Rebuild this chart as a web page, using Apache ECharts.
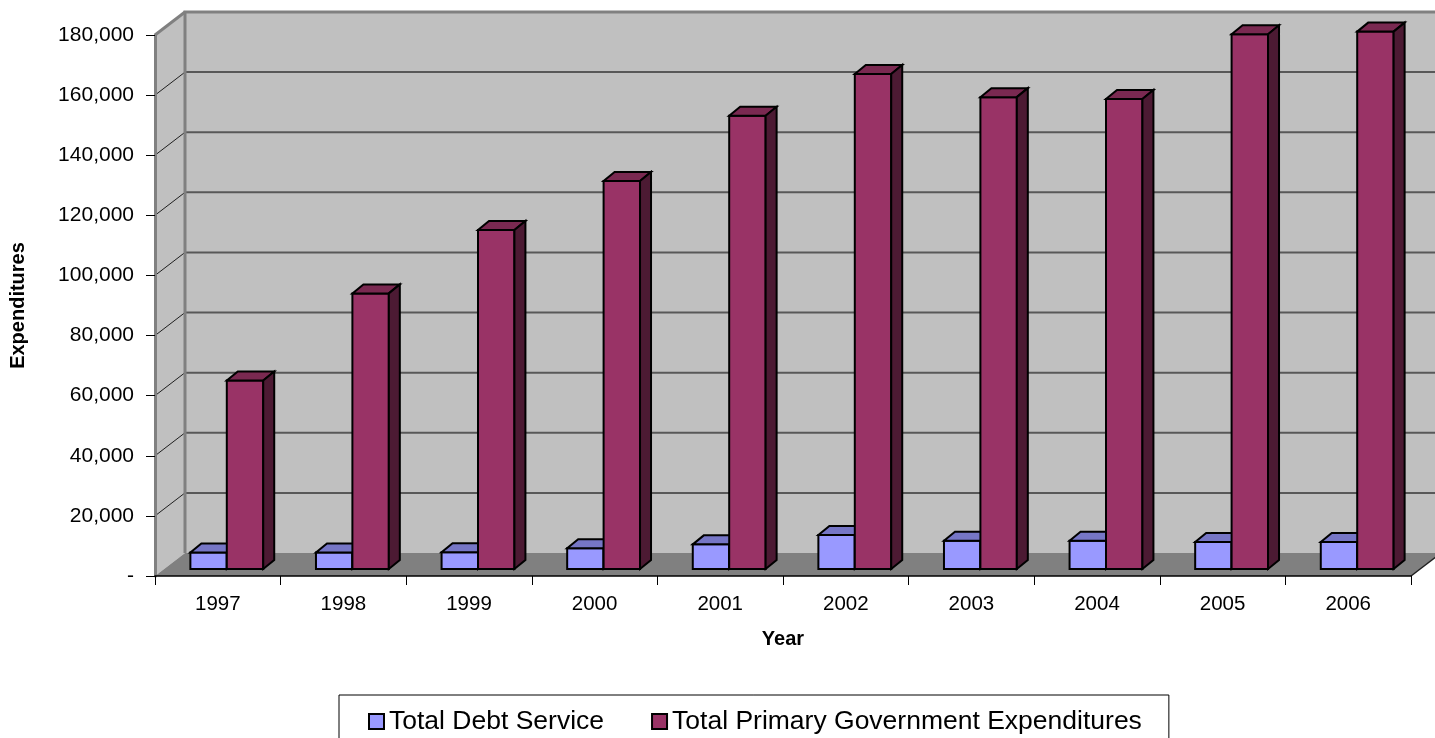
<!DOCTYPE html>
<html>
<head>
<meta charset="utf-8">
<script src="https://cdn.jsdelivr.net/npm/echarts@6/dist/echarts.min.js"></script>
<style>
  html, body { margin: 0; padding: 0; background: #ffffff; }
  #chart { width: 1435px; height: 738px; }
</style>
</head>
<body>
<div id="chart"></div>
<script>
// ---- data ----
const years = ['1997', '1998', '1999', '2000', '2001', '2002', '2003', '2004', '2005', '2006'];
const debtService = [5500, 5500, 5600, 6900, 8200, 11300, 9400, 9400, 9000, 9000];
const primaryExpenditures = [62700, 91700, 112800, 129100, 150800, 164700, 157000, 156400, 177900, 178800];
const yTicks = [0, 20000, 40000, 60000, 80000, 100000, 120000, 140000, 160000, 180000];
const seriesNames = ['Total Debt Service', 'Total Primary Government Expenditures'];

// ---- 3-D box geometry (pixels) ----
const WALL_DX = 30, WALL_DY = -23;   // depth of the chart box
const BAR_FX = 9, BAR_FY = -7;       // where the bars stand inside the box
const BAR_DX = 11, BAR_DY = -9;      // depth of a single bar
const BAR_FRACTION = 0.29;           // bar width as a share of a category band

const FONT = "'Liberation Sans', Arial, sans-serif";

const palette = {
  debt: { front: '#9999ff', top: '#7676c6', side: '#4c4c80' },
  primary: { front: '#993366', top: '#7a2951', side: '#4c1a33' }
};

// back wall, left wall, floor and the gridlines painted on the walls
function renderFrame(params, api) {
  const cs = params.coordSys;
  const x0 = cs.x, x1 = cs.x + cs.width;
  const yb = api.coord([0, 0])[1];
  const yt = api.coord([0, yTicks[yTicks.length - 1]])[1];
  const children = [];

  children.push({
    type: 'polygon',
    shape: { points: [[x0 + WALL_DX, yt + WALL_DY], [x1 + WALL_DX + 40, yt + WALL_DY], [x1 + WALL_DX + 40, yb + WALL_DY], [x0 + WALL_DX, yb + WALL_DY]] },
    style: { fill: '#c0c0c0' }
  });
  children.push({
    type: 'polygon',
    shape: { points: [[x0, yt], [x0 + WALL_DX, yt + WALL_DY], [x0 + WALL_DX, yb + WALL_DY], [x0, yb]] },
    style: { fill: '#c0c0c0' }
  });
  children.push({
    type: 'polygon',
    shape: { points: [[x0, yb], [x0 + WALL_DX, yb + WALL_DY], [x1 + WALL_DX, yb + WALL_DY], [x1, yb]] },
    style: { fill: '#808080' }
  });

  yTicks.forEach(function (v) {
    if (v === 0) return;
    const y = api.coord([0, v])[1];
    if (v !== yTicks[yTicks.length - 1]) {
      children.push({
        type: 'line',
        shape: { x1: x0 + WALL_DX, y1: y + WALL_DY, x2: x1 + WALL_DX + 40, y2: y + WALL_DY },
        style: { stroke: '#585858', lineWidth: 2 }
      });
    }
    children.push({
      type: 'line',
      shape: { x1: x0, y1: y, x2: x0 + WALL_DX, y2: y + WALL_DY },
      style: { stroke: '#202020', lineWidth: 1 }
    });
  });

  // box edges
  children.push({
    type: 'polyline',
    shape: { points: [[x0 + WALL_DX, yb + WALL_DY], [x0 + WALL_DX, yt + WALL_DY], [x1 + WALL_DX + 40, yt + WALL_DY]] },
    style: { stroke: '#808080', lineWidth: 3, fill: null }
  });
  children.push({
    type: 'line',
    shape: { x1: x0, y1: yt, x2: x0 + WALL_DX, y2: yt + WALL_DY },
    style: { stroke: '#808080', lineWidth: 3 }
  });
  children.push({
    type: 'line',
    shape: { x1: x1, y1: yb, x2: x1 + WALL_DX, y2: yb + WALL_DY },
    style: { stroke: '#202020', lineWidth: 1.5 }
  });
  return { type: 'group', children: children };
}

// a 3-D column: front face, top face, right side face
function barRenderer(slot, colors) {
  return function (params, api) {
    const i = api.value(0), v = api.value(1);
    const base = api.coord([i, 0]);
    const top = api.coord([i, v]);
    const w = api.size([1, 0])[0] * BAR_FRACTION;
    const xL = base[0] + BAR_FX + (slot - 1) * w;
    const xR = xL + w;
    const yB = base[1] + BAR_FY;
    const yT = top[1] + BAR_FY;
    const edge = { stroke: '#000000', lineWidth: 2, lineJoin: 'miter' };
    return {
      type: 'group',
      children: [
        { type: 'polygon', shape: { points: [[xL, yT], [xR, yT], [xR, yB], [xL, yB]] },
          style: Object.assign({ fill: colors.front }, edge) },
        { type: 'polygon', shape: { points: [[xL, yT], [xR, yT], [xR + BAR_DX, yT + BAR_DY], [xL + BAR_DX, yT + BAR_DY]] },
          style: Object.assign({ fill: colors.top }, edge) },
        { type: 'polygon', shape: { points: [[xR, yT], [xR + BAR_DX, yT + BAR_DY], [xR + BAR_DX, yB + BAR_DY], [xR, yB]] },
          style: Object.assign({ fill: colors.side }, edge) }
      ]
    };
  };
}

const chart = echarts.init(document.getElementById('chart'), null, { renderer: 'canvas' });

chart.setOption({
  animation: false,
  backgroundColor: '#ffffff',
  grid: { left: 154, right: 24, top: 35, bottom: 162, containLabel: false },
  legend: {
    left: 339, top: 695,
    orient: 'horizontal',
    borderColor: '#000000', borderWidth: 1,
    padding: [13, 27, 20, 29],
    itemWidth: 15, itemHeight: 15, itemGap: 47,
    textStyle: { fontFamily: FONT, fontSize: 26.5, color: '#000000' },
    data: [
      { name: seriesNames[0], icon: 'rect', itemStyle: { color: palette.debt.front, borderColor: '#000000', borderWidth: 2 } },
      { name: seriesNames[1], icon: 'rect', itemStyle: { color: palette.primary.front, borderColor: '#000000', borderWidth: 2 } }
    ]
  },
  xAxis: {
    type: 'category',
    data: years,
    boundaryGap: true,
    z: 5,
    name: 'Year',
    nameLocation: 'middle',
    nameGap: 53,
    nameTextStyle: { fontFamily: FONT, fontSize: 20, fontWeight: 'bold', color: '#000000' },
    axisLine: { show: true, lineStyle: { color: '#000000', width: 1.5 } },
    axisTick: { show: true, length: 9, interval: 0, lineStyle: { color: '#000000', width: 1 } },
    axisLabel: { fontFamily: FONT, fontSize: 20.5, color: '#000000', margin: 18, interval: 0 },
    splitLine: { show: false }
  },
  yAxis: {
    type: 'value',
    min: 0, max: 180000, interval: 20000,
    z: 5,
    name: 'Expenditures',
    nameLocation: 'middle',
    nameGap: 127,
    nameRotate: 90,
    nameTextStyle: { fontFamily: FONT, fontSize: 20, fontWeight: 'bold', color: '#000000' },
    axisLine: { show: true, lineStyle: { color: '#808080', width: 3 } },
    axisTick: { show: true, length: 9, lineStyle: { color: '#000000', width: 1 } },
    axisLabel: {
      fontFamily: FONT, fontSize: 21, color: '#000000', margin: 21,
      formatter: function (v) { return v === 0 ? '-' : v.toLocaleString('en-US'); }
    },
    splitLine: { show: false }
  },
  series: [
    {
      name: 'frame', type: 'custom', z: 1, silent: true,
      renderItem: renderFrame,
      data: [[0, 0]]
    },
    {
      name: seriesNames[0], type: 'custom', z: 2,
      itemStyle: { color: palette.debt.front },
      renderItem: barRenderer(0, palette.debt),
      data: debtService.map(function (v, i) { return [i, v]; })
    },
    {
      name: seriesNames[1], type: 'custom', z: 3,
      itemStyle: { color: palette.primary.front },
      renderItem: barRenderer(1, palette.primary),
      data: primaryExpenditures.map(function (v, i) { return [i, v]; })
    }
  ]
});
</script>
</body>
</html>
